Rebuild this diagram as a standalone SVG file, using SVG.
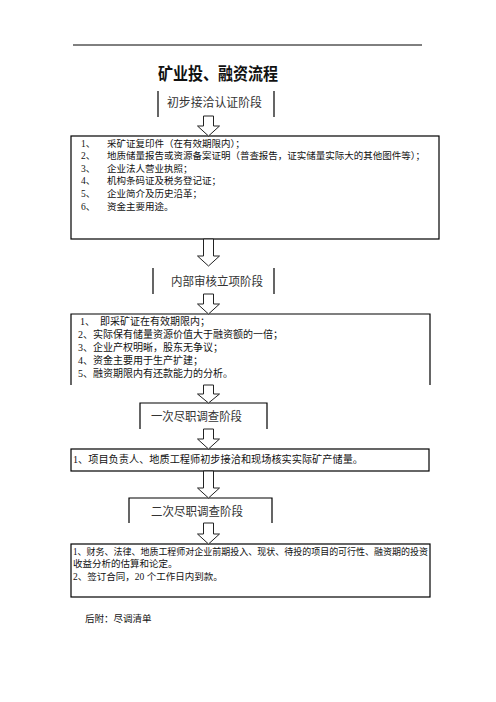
<svg xmlns="http://www.w3.org/2000/svg" width="496" height="702" viewBox="0 0 496 702">
<style>
.t{font-family:"Liberation Serif","Noto Sans CJK SC",serif;fill:#111}
.stage{font-size:12px;fill:#333}
.body{font-size:9.5px}
.ln{stroke:#000;stroke-width:1.2;fill:none}
.ar{stroke:#222;stroke-width:1;fill:#fff}
</style>
<line x1="73" y1="45" x2="422" y2="45" stroke="#000" stroke-width="1"/>
<text class="t" x="158" y="80" font-size="17" font-weight="bold" textLength="120" lengthAdjust="spacingAndGlyphs" fill="#000">矿业投、融资流程</text>

<g id="stage1">
<path class="ln" d="M158,91 V117 M274,91 V117"/>
<text class="t stage" x="167" y="107" textLength="95" lengthAdjust="spacingAndGlyphs">初步接洽认证阶段</text>
</g>

<g id="box1">
<rect class="ln" x="71" y="136" width="368" height="103"/>
<g class="t body">
<text x="81" y="147">1、</text><text x="107" y="147">采矿证复印件（在有效期限内）；</text>
<text x="81" y="159">2、</text><text x="107" y="159" textLength="318" lengthAdjust="spacingAndGlyphs">地质储量报告或资源备案证明（普查报告，证实储量实际大的其他图件等）；</text>
<text x="81" y="172">3、</text><text x="107" y="172">企业法人营业执照；</text>
<text x="81" y="184">4、</text><text x="107" y="184">机构条码证及税务登记证；</text>
<text x="81" y="197">5、</text><text x="107" y="197">企业简介及历史沿革；</text>
<text x="81" y="210">6、</text><text x="107" y="210">资金主要用途。</text>
</g>
</g>

<g id="stage2">
<path class="ln" d="M153,268 V294 M274,268 V294"/>
<text class="t stage" x="171" y="286" font-size="13" textLength="92" lengthAdjust="spacingAndGlyphs">内部审核立项阶段</text>
</g>

<g id="box2">
<path class="ln" d="M71,385 V314 H430 V385"/>
<g class="t" font-size="10">
<text x="80" y="325">1、</text><text x="100" y="325">即采矿证在有效期限内；</text>
<text x="78" y="338">2、实际保有储量资源价值大于融资额的一倍；</text>
<text x="78" y="351">3、企业产权明晰，股东无争议；</text>
<text x="78" y="364">4、资金主要用于生产扩建；</text>
<text x="78" y="377">5、融资期限内有还款能力的分析。</text>
</g>
</g>

<g id="stage3">
<path class="ln" d="M140,429 V403 H267 V429"/>
<text class="t stage" x="151" y="421" textLength="91" lengthAdjust="spacingAndGlyphs">一次尽职调查阶段</text>
</g>

<g id="box3">
<rect class="ln" x="71" y="449" width="358" height="22"/>
<text class="t" x="73" y="463" font-size="10" textLength="290" lengthAdjust="spacingAndGlyphs">1、项目负责人、地质工程师初步接洽和现场核实实际矿产储量。</text>
</g>

<g id="stage4">
<path class="ln" d="M129,523 V498 H272 V523"/>
<text class="t stage" x="151" y="516" textLength="92" lengthAdjust="spacingAndGlyphs">二次尽职调查阶段</text>
</g>

<g id="box4">
<rect class="ln" x="71" y="544" width="359" height="53"/>
<g class="t body">
<text x="73" y="555" textLength="355" lengthAdjust="spacingAndGlyphs">1、财务、法律、地质工程师对企业前期投入、现状、待投的项目的可行性、融资期的投资</text>
<text x="73" y="567">收益分析的估算和论定。</text>
<text x="73" y="580">2、签订合同，20 个工作日内到款。</text>
</g>
</g>

<text class="t" x="85" y="622" font-size="9.5" fill="#444">后附：尽调清单</text>

<g id="connectors">
<path class="ar" d="M203.5,116 H213.5 V126 H219.5 L208.5,136 L197.5,126 H203.5 Z"/>
<path class="ar" d="M203.5,239 H213.5 V256 H219.5 L208.5,266 L197.5,256 H203.5 Z"/>
<path class="ar" d="M203.5,294 H213.5 V304 H219.5 L208.5,314 L197.5,304 H203.5 Z"/>
<path class="ar" d="M203.5,385 H213.5 V394 H219.5 L208.5,403 L197.5,394 H203.5 Z"/>
<path class="ar" d="M203.5,429 H213.5 V439 H219.5 L208.5,449 L197.5,439 H203.5 Z"/>
<path class="ar" d="M203.5,471 H213.5 V488 H219.5 L208.5,498 L197.5,488 H203.5 Z"/>
<path class="ar" d="M203.5,523 H213.5 V534 H219.5 L208.5,544 L197.5,534 H203.5 Z"/>
</g>
</svg>
